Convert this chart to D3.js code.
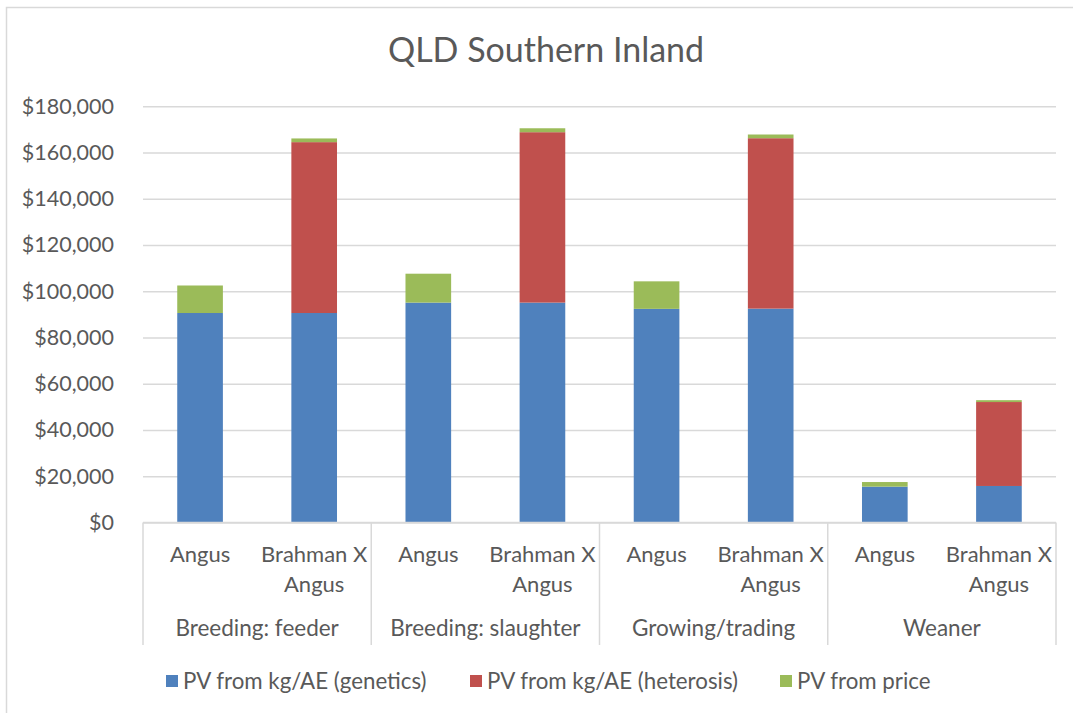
<!DOCTYPE html>
<html>
<head>
<meta charset="utf-8">
<script src="https://cdn.jsdelivr.net/npm/d3@7"></script>
<style>
  html, body { margin: 0; padding: 0; background: #fff; }
  svg { display: block; font-family: Lato, "Open Sans", sans-serif; }
</style>
</head>
<body>
<svg id="chart" width="1073" height="713"></svg>
<script>
// Chart data
const groups = ["Breeding: feeder", "Breeding: slaughter", "Growing/trading", "Weaner"];
const breeds = ["Angus", "Brahman X Angus"];
const breedLines = [["Angus"], ["Brahman X", "Angus"]];
const seriesNames = ["PV from kg/AE (genetics)", "PV from kg/AE (heterosis)", "PV from price"];
const seriesColors = ["#4F81BD", "#C0504D", "#9BBB59"];

// values per bar, in order: feeder A, feeder BxA, slaughter A, slaughter BxA, growing A, growing BxA, weaner A, weaner BxA
const genetics  = [90600, 90600, 95100, 95100, 92400, 92500, 15500, 15800];
const heterosis = [0, 73900, 0, 73700, 0, 73700, 0, 36300];
const price     = [11900, 1600, 12500, 1700, 11900, 1600, 2000, 800];

const yTicks = [0, 20000, 40000, 60000, 80000, 100000, 120000, 140000, 160000, 180000];

// Build rows for stacking
const rows = [];
groups.forEach((g, gi) => {
  breeds.forEach((b, bi) => {
    const i = gi * breeds.length + bi;
    rows.push({ key: g + "|" + b, group: g, breed: b, bi: bi,
      s0: genetics[i], s1: heterosis[i], s2: price[i] });
  });
});

const svg = d3.select("#chart");
const textColor = "#595959";
const gridColor = "#d9d9d9";

// Chart border
svg.append("rect")
  .attr("x", 6.5).attr("y", 7.5)
  .attr("width", 1080).attr("height", 720)
  .attr("fill", "none").attr("stroke", gridColor).attr("stroke-width", 1.5);

const plot = { left: 143, right: 1056, top: 106.3, bottom: 522.5 };

const y = d3.scaleLinear().domain([0, 180000]).range([plot.bottom, plot.top]);

const xGroup = d3.scaleBand().domain(groups).range([plot.left, plot.right]).padding(0);
const xBar = d3.scaleBand().domain(rows.map(r => r.key)).range([plot.left, plot.right])
  .paddingInner(0.6).paddingOuter(0.3);

// Title
svg.append("text")
  .attr("x", 546).attr("y", 62)
  .attr("text-anchor", "middle")
  .attr("fill", textColor)
  .attr("font-size", 34)
  .text("QLD Southern Inland");

// Gridlines
const yAxis = d3.axisLeft(y)
  .tickValues(yTicks)
  .tickSize(-(plot.right - plot.left))
  .tickPadding(29)
  .tickFormat(d => "$" + d3.format(",")(d));

const gy = svg.append("g")
  .attr("transform", `translate(${plot.left},0)`)
  .call(yAxis);
gy.select(".domain").remove();
gy.selectAll(".tick line").attr("stroke", gridColor).attr("stroke-width", 1.5);
gy.selectAll(".tick text")
  .attr("fill", textColor)
  .attr("font-size", 21.5)
  .attr("font-family", "Lato, sans-serif");

// Stacked bars
const stack = d3.stack().keys(["s0", "s1", "s2"]);
const stacked = stack(rows);

svg.append("g")
  .selectAll("g")
  .data(stacked)
  .join("g")
  .attr("fill", (d, i) => seriesColors[i])
  .selectAll("rect")
  .data(d => d.map(v => Object.assign(v, { key: v.data.key })))
  .join("rect")
  .attr("x", d => xBar(d.key))
  .attr("width", xBar.bandwidth())
  .attr("y", d => y(d[1]))
  .attr("height", d => Math.max(0, y(d[0]) - y(d[1])));

// Category axis line and group dividers
const axisG = svg.append("g");
axisG.append("line")
  .attr("x1", plot.left).attr("x2", plot.right)
  .attr("y1", plot.bottom).attr("y2", plot.bottom)
  .attr("stroke", gridColor).attr("stroke-width", 1.5);

const dividers = groups.map(g => xGroup(g)).concat([plot.right]);
axisG.selectAll("line.div")
  .data(dividers)
  .join("line")
  .attr("class", "div")
  .attr("x1", d => d).attr("x2", d => d)
  .attr("y1", plot.bottom).attr("y2", 645)
  .attr("stroke", gridColor).attr("stroke-width", 1.5);

// Breed labels
const breedLabels = svg.append("g")
  .attr("fill", textColor)
  .attr("font-size", 22)
  .attr("text-anchor", "middle");
rows.forEach(r => {
  const cx = xBar(r.key) + xBar.bandwidth() / 2;
  const t = breedLabels.append("text").attr("x", cx).attr("y", 562);
  breedLines[r.bi].forEach((line, li) => {
    t.append("tspan").attr("x", cx).attr("dy", li === 0 ? 0 : 30).text(line);
  });
});

// Group labels
svg.append("g")
  .selectAll("text")
  .data(groups)
  .join("text")
  .attr("x", d => xGroup(d) + xGroup.bandwidth() / 2)
  .attr("y", 636)
  .attr("text-anchor", "middle")
  .attr("fill", textColor)
  .attr("font-size", 22.5)
  .text(d => d);

// Legend
const legendX = [166, 470, 780];
const legend = svg.append("g");
seriesNames.forEach((name, i) => {
  legend.append("rect")
    .attr("x", legendX[i]).attr("y", 675)
    .attr("width", 12).attr("height", 12)
    .attr("fill", seriesColors[i]);
  legend.append("text")
    .attr("x", legendX[i] + 17).attr("y", 689)
    .attr("fill", textColor)
    .attr("font-size", 22.3)
    .text(name);
});
</script>
</body>
</html>
